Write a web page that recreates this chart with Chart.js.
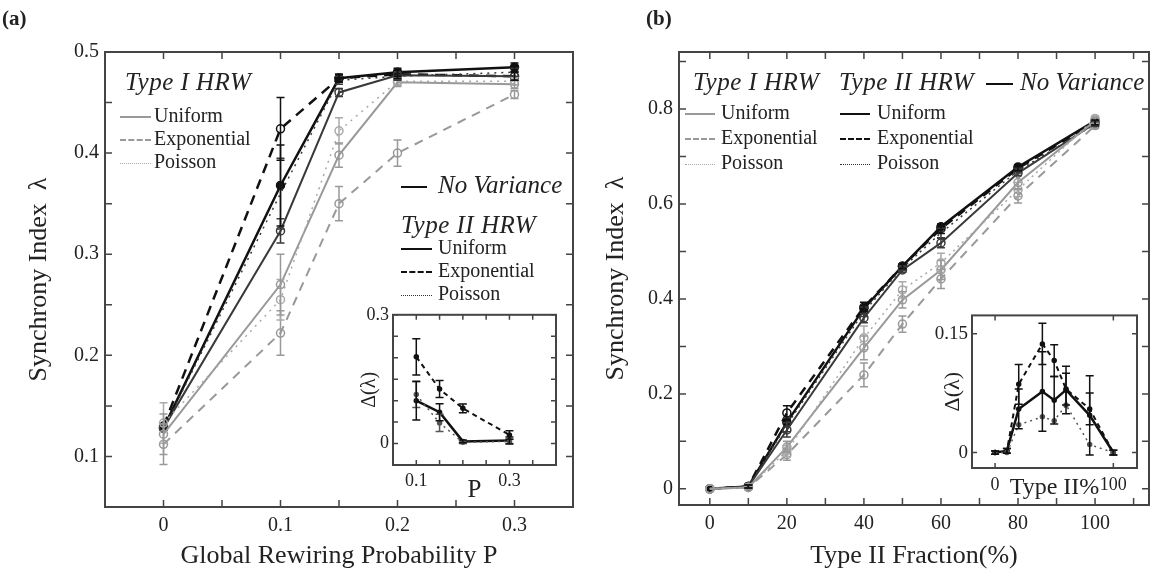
<!DOCTYPE html>
<html>
<head>
<meta charset="utf-8">
<script src="https://cdn.jsdelivr.net/npm/chart.js@4.4.1/dist/chart.umd.min.js"></script>
<style>
  body { margin: 0; background: #fff; }
  #wrap { position: relative; width: 1156px; height: 579px; overflow: hidden; font-family: "Liberation Serif", serif; color: #222; }
  canvas { position: absolute; }
  .lg { position: absolute; font-size: 20px; line-height: 20px; white-space: nowrap; }
  .hd { position: absolute; font-size: 25px; line-height: 26px; font-style: italic; white-space: nowrap; }
  .smp { display: inline-block; vertical-align: middle; height: 0; }
  .pl { position: absolute; font-size: 21px; font-weight: bold; }
</style>
</head>
<body>
<div id="wrap">
  <canvas id="mainA" style="left:0;top:0" width="580" height="579"></canvas>
  <canvas id="mainB" style="left:580px;top:0" width="576" height="579"></canvas>
  <canvas id="insetA" style="left:355px;top:300px" width="210" height="205"></canvas>
  <canvas id="insetB" style="left:925px;top:300px" width="220" height="200"></canvas>

  <div class="pl" style="left:2px;top:6px">(a)</div>
  <div class="pl" style="left:646px;top:6px">(b)</div>

  <!-- panel (a) legend -->
  <div class="hd" style="left:125px;top:69px;letter-spacing:0.5px">Type I HRW</div>
  <div class="lg" style="left:120px;top:105px"><span class="smp" style="width:31px;border-top:2px solid #999;margin-right:3px"></span>Uniform</div>
  <div class="lg" style="left:120px;top:128px"><span class="smp" style="width:31px;border-top:2px dashed #999;margin-right:3px"></span>Exponential</div>
  <div class="lg" style="left:120px;top:151px"><span class="smp" style="width:31px;border-top:1.5px dotted #aaa;margin-right:3px"></span>Poisson</div>
  <div class="hd" style="left:401px;top:172px"><span class="smp" style="width:26px;border-top:2.5px solid #111;margin-right:11px"></span>No Variance</div>
  <div class="hd" style="left:401px;top:212px;letter-spacing:0.5px">Type II HRW</div>
  <div class="lg" style="left:401px;top:237px"><span class="smp" style="width:31px;border-top:2.5px solid #111;margin-right:6px"></span>Uniform</div>
  <div class="lg" style="left:401px;top:260px"><span class="smp" style="width:31px;border-top:2.5px dashed #111;margin-right:6px"></span>Exponential</div>
  <div class="lg" style="left:401px;top:283px"><span class="smp" style="width:31px;border-top:1.5px dotted #333;margin-right:6px"></span>Poisson</div>

  <!-- panel (b) legend -->
  <div class="hd" style="left:693px;top:69px;letter-spacing:0.5px">Type I HRW</div>
  <div class="hd" style="left:839px;top:69px;letter-spacing:0.5px">Type II HRW</div>
  <div class="hd" style="left:986px;top:69px"><span class="smp" style="width:27px;border-top:2.5px solid #111;margin-right:7px"></span>No Variance</div>
  <div class="lg" style="left:685px;top:102px"><span class="smp" style="width:30px;border-top:2px solid #999;margin-right:6px"></span>Uniform</div>
  <div class="lg" style="left:685px;top:127px"><span class="smp" style="width:30px;border-top:2px dashed #999;margin-right:6px"></span>Exponential</div>
  <div class="lg" style="left:685px;top:152px"><span class="smp" style="width:30px;border-top:1.5px dotted #aaa;margin-right:6px"></span>Poisson</div>
  <div class="lg" style="left:840px;top:102px"><span class="smp" style="width:30px;border-top:2.5px solid #111;margin-right:7px"></span>Uniform</div>
  <div class="lg" style="left:840px;top:127px"><span class="smp" style="width:30px;border-top:2.5px dashed #111;margin-right:7px"></span>Exponential</div>
  <div class="lg" style="left:840px;top:152px"><span class="smp" style="width:30px;border-top:1.5px dotted #333;margin-right:7px"></span>Poisson</div>
</div>

<script>
// ---- panel (a): synchrony vs global rewiring probability ----
const probA = [0, 0.1, 0.15, 0.2, 0.3];
const a_t1Uni = [0.122, 0.270, 0.398, 0.470, 0.468];
const a_t1Exp = [0.112, 0.222, 0.350, 0.400, 0.458];
const a_t1Poi = [0.133, 0.255, 0.422, 0.471, 0.471];
const a_noVar = [0.128, 0.368, 0.474, 0.480, 0.485];
const a_t2Uni = [0.128, 0.323, 0.460, 0.477, 0.476];
const a_t2Exp = [0.130, 0.424, 0.474, 0.478, 0.476];
const a_t2Poi = [0.127, 0.360, 0.472, 0.476, 0.480];
const a_t1UniErr = [0.020, 0.030, 0.012, 0.004, 0.004];
const a_t1ExpErr = [0.020, 0.022, 0.017, 0.013, 0.004];
const a_t1PoiErr = [0.020, 0.020, 0.013, 0.004, 0.004];
const a_noVarErr = [0, 0.040, 0.004, 0.004, 0.004];
const a_t2UniErr = [0, 0.012, 0.004, 0.004, 0.004];
const a_t2ExpErr = [0, 0.031, 0.004, 0.004, 0.004];
const a_t2PoiErr = [0, 0.035, 0.004, 0.004, 0.004];

// inset (a): difference
const probInA = [0.1, 0.15, 0.2, 0.3];
const inA_exp = [0.202, 0.127, 0.082, 0.020];
const inA_uni = [0.100, 0.073, 0.005, 0.007];
const inA_poi = [0.114, 0.048, 0.003, 0.005];
const inA_expErr = [0.042, 0.020, 0.010, 0.010];
const inA_uniErr = [0.045, 0.020, 0.003, 0.008];
const inA_poiErr = [0.030, 0.020, 0.003, 0.005];

// ---- panel (b): synchrony vs type II fraction ----
const fracB = [0, 10, 20, 40, 50, 60, 80, 100];
const b_t1Uni = [0, 0.003, 0.088, 0.297, 0.398, 0.461, 0.645, 0.775];
const b_t1Exp = [0, 0.003, 0.072, 0.240, 0.347, 0.442, 0.617, 0.765];
const b_t1Poi = [0, 0.003, 0.080, 0.318, 0.419, 0.476, 0.630, 0.780];
const b_noVar = [0, 0.005, 0.140, 0.380, 0.469, 0.552, 0.678, 0.775];
const b_t2Uni = [0, 0.005, 0.124, 0.360, 0.461, 0.518, 0.665, 0.770];
const b_t2Exp = [0, 0.005, 0.160, 0.383, 0.469, 0.548, 0.675, 0.772];
const b_t2Poi = [0, 0.005, 0.135, 0.373, 0.465, 0.539, 0.670, 0.768];
const b_t1Err = [0, 0.003, 0.012, 0.025, 0.017, 0.020, 0.015, 0.006];
const b_t2Err = [0, 0.003, 0.015, 0.010, 0.005, 0.010, 0.005, 0.005];

// inset (b)
const fracInB = [0, 10, 20, 40, 50, 60, 80, 100];
const inB_exp = [0, 0.002, 0.086, 0.137, 0.116, 0.080, 0.055, 0];
const inB_uni = [0, 0.002, 0.055, 0.077, 0.066, 0.079, 0.047, 0];
const inB_poi = [0, 0, 0.035, 0.045, 0.040, 0.060, 0.010, 0];
const inB_expErr = [0.002, 0.003, 0.025, 0.026, 0.020, 0.020, 0.020, 0.003];
const inB_uniErr = [0.002, 0.003, 0.025, 0.050, 0.030, 0.030, 0.050, 0.003];

const SERIF = "'Liberation Serif', serif";
const GRAY = "#999";
const DARK = "#3a3a3a";
const BLACK = "#111";

function pts(xs, ys) {
  return xs.map((x, i) => ({ x: x, y: ys[i] }));
}

function series(xs, ys, errs, color, dash, opts) {
  opts = opts || {};
  return {
    data: pts(xs, ys),
    errors: errs,
    borderColor: color,
    borderWidth: opts.width || 2,
    borderDash: dash,
    pointRadius: opts.radius == null ? 4 : opts.radius,
    pointBorderWidth: 1.5,
    pointBorderColor: color,
    pointBackgroundColor: opts.filled ? color : "rgba(0,0,0,0)",
    tension: 0,
  };
}

// error bars drawn through the scales
const errorBars = {
  id: "errorBars",
  afterDatasetsDraw(chart) {
    const { ctx, scales } = chart;
    ctx.save();
    chart.data.datasets.forEach((ds) => {
      if (!ds.errors) return;
      ctx.strokeStyle = ds.borderColor;
      ctx.lineWidth = 1.5;
      ctx.setLineDash([]);
      ds.data.forEach((p, i) => {
        const e = ds.errors[i];
        if (!e) return;
        const x = scales.x.getPixelForValue(p.x);
        const y1 = scales.y.getPixelForValue(p.y + e);
        const y2 = scales.y.getPixelForValue(p.y - e);
        ctx.beginPath();
        ctx.moveTo(x, y1); ctx.lineTo(x, y2);
        ctx.moveTo(x - 4, y1); ctx.lineTo(x + 4, y1);
        ctx.moveTo(x - 4, y2); ctx.lineTo(x + 4, y2);
        ctx.stroke();
      });
    });
    ctx.restore();
  },
};

// box frame with inward ticks on all four sides
const frame = {
  id: "frame",
  beforeDraw(chart, args, opts) {
    if (!opts.fill) return;
    const a = chart.chartArea;
    chart.ctx.save();
    chart.ctx.fillStyle = "#fff";
    chart.ctx.fillRect(a.left, a.top, a.right - a.left, a.bottom - a.top);
    chart.ctx.restore();
  },
  afterDraw(chart, args, opts) {
    const { ctx, chartArea: a, scales } = chart;
    const len = opts.len || 6;
    ctx.save();
    ctx.strokeStyle = "#444";
    ctx.lineWidth = 2;
    ctx.setLineDash([]);
    ctx.strokeRect(a.left, a.top, a.right - a.left, a.bottom - a.top);
    ctx.lineWidth = 1.5;
    ctx.beginPath();
    scales.x.ticks.forEach((t) => {
      const px = scales.x.getPixelForValue(t.value);
      ctx.moveTo(px, a.bottom); ctx.lineTo(px, a.bottom - len);
      ctx.moveTo(px, a.top); ctx.lineTo(px, a.top + len);
    });
    scales.y.ticks.forEach((t) => {
      const py = scales.y.getPixelForValue(t.value);
      ctx.moveTo(a.left, py); ctx.lineTo(a.left + len, py);
      ctx.moveTo(a.right, py); ctx.lineTo(a.right - len, py);
    });
    ctx.stroke();
    ctx.restore();
  },
};

function labelEvery(step, only) {
  return function (v) {
    const k = v / step;
    if (Math.abs(k - Math.round(k)) > 1e-6) return "";
    const r = Math.round(k) * step;
    if (only && !only.some((o) => Math.abs(o - r) < 1e-9)) return "";
    return String(Math.round(r * 1000) / 1000);
  };
}

function axis(min, max, stepSize, cb, fontSize, pad, fitSize, horizontal, title) {
  return {
    type: "linear",
    min: min,
    max: max,
    ticks: {
      stepSize: stepSize,
      includeBounds: false,
      autoSkip: false,
      maxRotation: 0,
      padding: pad,
      color: "#222",
      font: { family: SERIF, size: fontSize },
      callback: cb,
    },
    grid: { display: false, drawTicks: false },
    border: { display: false },
    title: title,
    afterFit: function (scale) {
      if (horizontal) scale.height = fitSize;
      else scale.width = fitSize;
    },
  };
}

function baseOptions(xAxis, yAxis, padding, fill) {
  return {
    responsive: false,
    animation: false,
    layout: { padding: padding },
    plugins: {
      legend: { display: false },
      tooltip: { enabled: false },
      frame: { fill: fill, len: fill ? 5 : 7 },
    },
    scales: { x: xAxis, y: yAxis },
  };
}

// panel (a)
new Chart(document.getElementById("mainA"), {
  type: "line",
  data: {
    datasets: [
      series(probA, a_t1Exp, a_t1ExpErr, GRAY, [9, 7]),
      series(probA, a_t1Poi, a_t1PoiErr, "#aaa", [2, 5], { width: 1.5 }),
      series(probA, a_t1Uni, a_t1UniErr, GRAY, []),
      series(probA, a_t2Poi, a_t2PoiErr, DARK, [2, 5], { width: 1.5, radius: 0 }),
      series(probA, a_t2Uni, a_t2UniErr, DARK, []),
      series(probA, a_t2Exp, a_t2ExpErr, BLACK, [10, 7], { width: 2.5 }),
      series(probA, a_noVar, a_noVarErr, BLACK, [], { width: 2.5, filled: true }),
    ],
  },
  options: baseOptions(
    axis(-0.05, 0.35, 0.05, labelEvery(0.1), 20, 7, 72, true,
      { display: true, text: "Global Rewiring Probability P", color: "#222",
        font: { family: SERIF, size: 26 }, padding: { top: 0, bottom: 7 } }),
    axis(0.05, 0.5, 0.05, labelEvery(0.1), 20, 6, 105, false,
      { display: true, text: "Synchrony Index  λ", color: "#222",
        font: { family: SERIF, size: 26 }, padding: { top: 24, bottom: 0 } }),
    { top: 52, right: 7, left: 0, bottom: 0 },
    false
  ),
  plugins: [errorBars, frame],
});

// inset (a)
new Chart(document.getElementById("insetA"), {
  type: "line",
  data: {
    datasets: [
      series(probInA, inA_poi, inA_poiErr, "#555", [2, 4], { width: 1.5, radius: 2, filled: true }),
      series(probInA, inA_exp, inA_expErr, BLACK, [5, 4], { radius: 2, filled: true }),
      series(probInA, inA_uni, inA_uniErr, BLACK, [], { width: 2.5, radius: 2, filled: true }),
    ],
  },
  options: baseOptions(
    axis(0.05, 0.4, 0.05, labelEvery(0.1, [0.1, 0.3]), 18, 5, 40, true,
      { display: true, text: "P", color: "#222",
        font: { family: SERIF, size: 25 }, padding: { top: 0, bottom: 0 } }),
    axis(-0.05, 0.3, 0.05, labelEvery(0.1, [0, 0.3]), 18, 4, 38, false,
      { display: true, text: "Δ(λ)", color: "#222",
        font: { family: SERIF, size: 20 }, padding: { top: 3, bottom: 0 } }),
    { top: 12, right: 9, left: 0, bottom: 0 },
    true
  ),
  plugins: [errorBars, frame],
});

// panel (b)
new Chart(document.getElementById("mainB"), {
  type: "line",
  data: {
    datasets: [
      series(fracB, b_t1Exp, b_t1Err, GRAY, [9, 7]),
      series(fracB, b_t1Poi, b_t1Err, "#aaa", [2, 4], { width: 1.5 }),
      series(fracB, b_t1Uni, b_t1Err, GRAY, []),
      series(fracB, b_t2Poi, b_t2Err, DARK, [2, 4], { width: 1.5, radius: 0 }),
      series(fracB, b_t2Uni, b_t2Err, DARK, []),
      series(fracB, b_t2Exp, b_t2Err, BLACK, [9, 7], { width: 2.5 }),
      series(fracB, b_noVar, null, BLACK, [], { width: 2.5, filled: true }),
    ],
  },
  options: baseOptions(
    axis(-8, 114, 10, labelEvery(20), 20, 7, 74, true,
      { display: true, text: "Type II Fraction(%)", color: "#222",
        font: { family: SERIF, size: 26 }, padding: { top: 0, bottom: 7 } }),
    axis(-0.034, 0.92, 0.1, labelEvery(0.2), 20, 6, 99, false,
      { display: true, text: "Synchrony Index  λ", color: "#222",
        font: { family: SERIF, size: 26 }, padding: { top: 21, bottom: 0 } }),
    { top: 52, right: 7, left: 0, bottom: 0 },
    false
  ),
  plugins: [errorBars, frame],
});

// inset (b)
new Chart(document.getElementById("insetB"), {
  type: "line",
  data: {
    datasets: [
      series(fracInB, inB_poi, null, "#555", [2, 4], { width: 1.5, radius: 2, filled: true }),
      series(fracInB, inB_exp, inB_expErr, BLACK, [5, 4], { radius: 2, filled: true }),
      series(fracInB, inB_uni, inB_uniErr, BLACK, [], { width: 2.5, radius: 2, filled: true }),
    ],
  },
  options: baseOptions(
    axis(-19.5, 120, 100, labelEvery(100), 18, 6, 32, true,
      { display: true, text: "Type II%", color: "#222",
        font: { family: SERIF, size: 24 }, padding: { top: 0, bottom: -2 } }),
    axis(-0.0195, 0.173, 0.15, labelEvery(0.15), 19, 4, 47, false,
      { display: true, text: "Δ(λ)", color: "#222",
        font: { family: SERIF, size: 22 }, padding: { top: 15, bottom: 0 } }),
    { top: 10, right: 8, left: 0, bottom: 0 },
    true
  ),
  plugins: [errorBars, frame],
});
</script>
</body>
</html>
